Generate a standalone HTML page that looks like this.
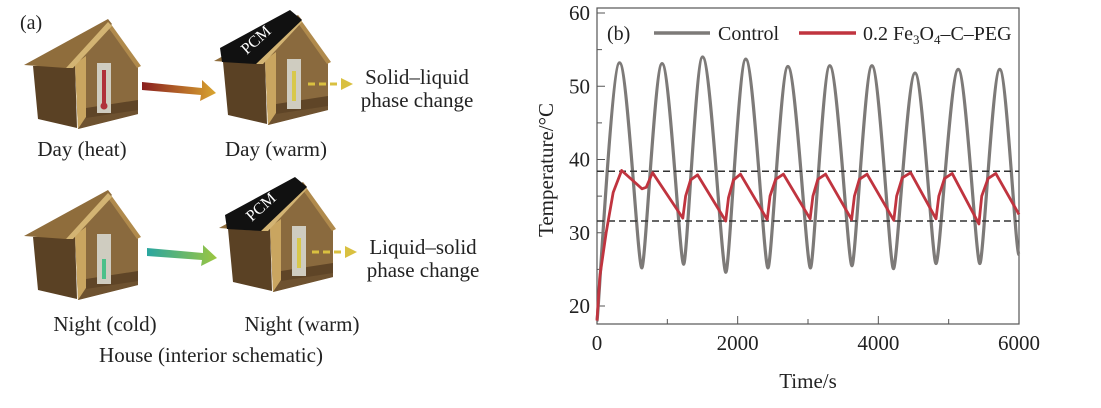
<!DOCTYPE html>
<html><head><meta charset="utf-8"><style>
html,body{margin:0;padding:0;background:#fff}
svg{display:block}
text{font-family:"Liberation Serif",serif;fill:#222}
</style></head><body>
<svg id="fig" width="1101" height="408" viewBox="0 0 1101 408">
<defs>
<linearGradient id="gHot" x1="0" x2="1"><stop offset="0" stop-color="#8a1f1f"/><stop offset="1" stop-color="#d9a530"/></linearGradient>
<linearGradient id="gCold" x1="0" x2="1"><stop offset="0" stop-color="#2aa6a0"/><stop offset="1" stop-color="#9cc640"/></linearGradient>
<g id="house">
<polygon points="33,66 75,64 77,128 38,119" fill="#5a4124"/>
<polygon points="75,64 108,27 138,66 138,114 78,129" fill="#8a6a3e"/>
<polygon points="75,64 86,56 86,117 78,129" fill="#c9a560"/>
<polygon points="78,129 86,117 138,108 138,114" fill="#6e5230"/>
<polygon points="86,108 138,100 138,110 86,118" fill="#5f4527"/>
<polygon points="108,20 141,66 137,68 108,27" fill="#b08a4c"/>
<polygon points="24,65 108,19 112,24 66,68" fill="#8f6d3c"/>
<polygon points="66,68 108,22 112,26 73,68" fill="#d3b473"/>
<rect x="97" y="63" width="14" height="50" fill="#cfccc0"/>
</g>
<g id="pcmroof"><polygon points="30,52 100,14 112,24 66,68 32,66" fill="#111"/></g>
</defs>

<g>
<text x="20" y="29" font-size="20">(a)</text>
<g><use href="#house"/><rect x="102" y="70" width="4" height="36" fill="#b0303a"/><circle cx="104" cy="106" r="3.5" fill="#b0303a"/></g>
<g transform="translate(190,-4)"><use href="#house"/><use href="#pcmroof"/><text x="0" y="5" font-size="16" text-anchor="middle" transform="translate(66,44) rotate(-42)" style="fill:#fff">PCM</text><rect x="102" y="75" width="4" height="30" fill="#d8c84a"/></g>
<g transform="translate(0,171)"><use href="#house"/><rect x="102" y="88" width="4" height="20" fill="#4cc08a"/></g>
<g transform="translate(195,163)"><use href="#house"/><use href="#pcmroof"/><text x="0" y="5" font-size="16" text-anchor="middle" transform="translate(66,44) rotate(-42)" style="fill:#fff">PCM</text><rect x="102" y="75" width="4" height="30" fill="#d8c84a"/></g>
<polygon points="142,82 202,88 202,80 216,93 200,101 201,95 142,90" fill="url(#gHot)"/>
<polygon points="147,248 203,253 203,245 217,258 201,266 202,260 147,256" fill="url(#gCold)"/>
<line x1="308" y1="84" x2="342" y2="84" stroke="#d9c040" stroke-width="3" stroke-dasharray="7,4"/>
<polygon points="341,78 353,84 341,90" fill="#d9c040"/>
<line x1="312" y1="252" x2="346" y2="252" stroke="#d9c040" stroke-width="3" stroke-dasharray="7,4"/>
<polygon points="345,246 357,252 345,258" fill="#d9c040"/>
<g font-size="21" text-anchor="middle">
<text x="417" y="84">Solid–liquid</text>
<text x="417" y="107">phase change</text>
<text x="423" y="254">Liquid–solid</text>
<text x="423" y="277">phase change</text>
<text x="82" y="156">Day (heat)</text>
<text x="276" y="156">Day (warm)</text>
<text x="105" y="331">Night (cold)</text>
<text x="302" y="331">Night (warm)</text>
<text x="211" y="362">House (interior schematic)</text>
</g>
</g>

<g id="chart"></g>
</svg>
<script>
const xTicks=[0,2000,4000,6000];
const yTicks=[20,30,40,50,60];
const ctrlT=[0,321,637,925,1232,1501,1832,2115,2431,2714,3035,3309,3625,3909,4215,4522,4820,5136,5443,5726,6000];
const ctrlV=[18,53.2,25.2,53.1,25.7,54,24.6,53.7,25.2,52.7,25.2,52.8,25.5,52.8,25.1,51.8,25.8,52.3,25.8,52.3,27];
const pcmT=[0,40,130,230,350,640,700,790,1220,1260,1330,1430,1830,1870,1940,2040,2420,2460,2540,2650,3030,3070,3140,3250,3620,3660,3730,3840,4220,4260,4340,4460,4820,4860,4940,5050,5430,5470,5560,5670,6000];
const pcmV=[18,24,30,35.5,38.5,36,36.2,38.2,32,35,37.2,37.9,31.6,34.8,37.2,38,31.8,35,37.3,38,31.9,35,37.3,38,31.8,35,37.3,38,31.7,35,37.5,38.2,31.9,35,37.4,38.1,31.2,35,37.4,38.1,32.5];
const refLines=[38.4,31.6];
const X0=597,X1=1019,Y60=13,Y20=306,YB=324;
const xs=t=>X0+(t-0)/6000*(X1-X0);
const ys=v=>Y20-(v-20)*(Y20-Y60)/40;
const NS='http://www.w3.org/2000/svg';
const g=document.getElementById('chart');
function mk(tag,attrs,parent){const e=document.createElementNS(NS,tag);for(const k in attrs)e.setAttribute(k,attrs[k]);(parent||g).appendChild(e);return e;}
const fr=mk('rect',{x:X0,y:Y60-5,width:X1-X0,height:YB-Y60+5,fill:'none',stroke:'#555','stroke-width':1.2});


xTicks.forEach(t=>{
 const l=mk('line',{x1:xs(t),x2:xs(t),y1:YB,y2:YB-8,stroke:'#555'});
 
 
 const tx=mk('text',{x:xs(t),y:YB+26,'font-size':21,'text-anchor':'middle'});
 tx.textContent=t;
 
 
});
[1000,3000,5000].forEach(t=>{const l=mk('line',{x1:xs(t),x2:xs(t),y1:YB,y2:YB-5,stroke:'#555'});});
yTicks.forEach(v=>{
 const l=mk('line',{x1:X0,x2:X0+8,y1:ys(v),y2:ys(v),stroke:'#555'});
 
 
 const tx=mk('text',{x:X0-7,y:ys(v)+7,'font-size':21,'text-anchor':'end'});
 tx.textContent=v;
 
 
});
[25,35,45,55].forEach(v=>{const l=mk('line',{x1:X0,x2:X0+5,y1:ys(v),y2:ys(v),stroke:'#555'});});
const xt=mk('text',{x:808,y:388,'font-size':21,'text-anchor':'middle'});xt.textContent='Time/s';


const yt=mk('text',{x:0,y:0,'font-size':21,'text-anchor':'middle',transform:'translate(553,170) rotate(-90)'});yt.textContent='Temperature/°C';


let d='M'+xs(ctrlT[0])+','+ys(ctrlV[0]);
for(let i=1;i<ctrlT.length;i++){
 const xa=xs(ctrlT[i-1]),xb=xs(ctrlT[i]),ya=ys(ctrlV[i-1]),yb=ys(ctrlV[i]);
 const w=xb-xa;
 const ka=(i===1)?0.05*w:(ctrlV[i-1]>ctrlV[i]?0.35*w:0.18*w);
 const kb=(ctrlV[i]>ctrlV[i-1])?0.35*w:0.18*w;
 d+=` C${xa+ka},${ya} ${xb-kb},${yb} ${xb},${yb}`;
}
const cp=mk('path',{d:d,fill:'none',stroke:'#7d7a78','stroke-width':3.2});


refLines.forEach(v=>{const l=mk('line',{x1:X0,x2:X1,y1:ys(v),y2:ys(v),stroke:'#333','stroke-width':1.5,'stroke-dasharray':'7,4'});});
const pp=mk('polyline',{points:pcmT.map((t,i)=>xs(t)+','+ys(pcmV[i])).join(' '),fill:'none',stroke:'#c0343f','stroke-width':2.8,'stroke-linejoin':'round'});


const pb=mk('text',{x:607,y:40,'font-size':20});pb.textContent='(b)';


const l1=mk('line',{x1:654,x2:710,y1:33,y2:33,stroke:'#7d7a78','stroke-width':3.5});


const t1=mk('text',{x:718,y:40,'font-size':20});t1.textContent='Control';


const l2=mk('line',{x1:799,x2:856,y1:33,y2:33,stroke:'#c0343f','stroke-width':3.5});


const t2=mk('text',{x:863,y:40,'font-size':20});
t2.innerHTML='0.2 Fe<tspan font-size="13" dy="4">3</tspan><tspan dy="-4">O</tspan><tspan font-size="13" dy="4">4</tspan><tspan dy="-4">–C–PEG</tspan>';


</script>
</body></html>
